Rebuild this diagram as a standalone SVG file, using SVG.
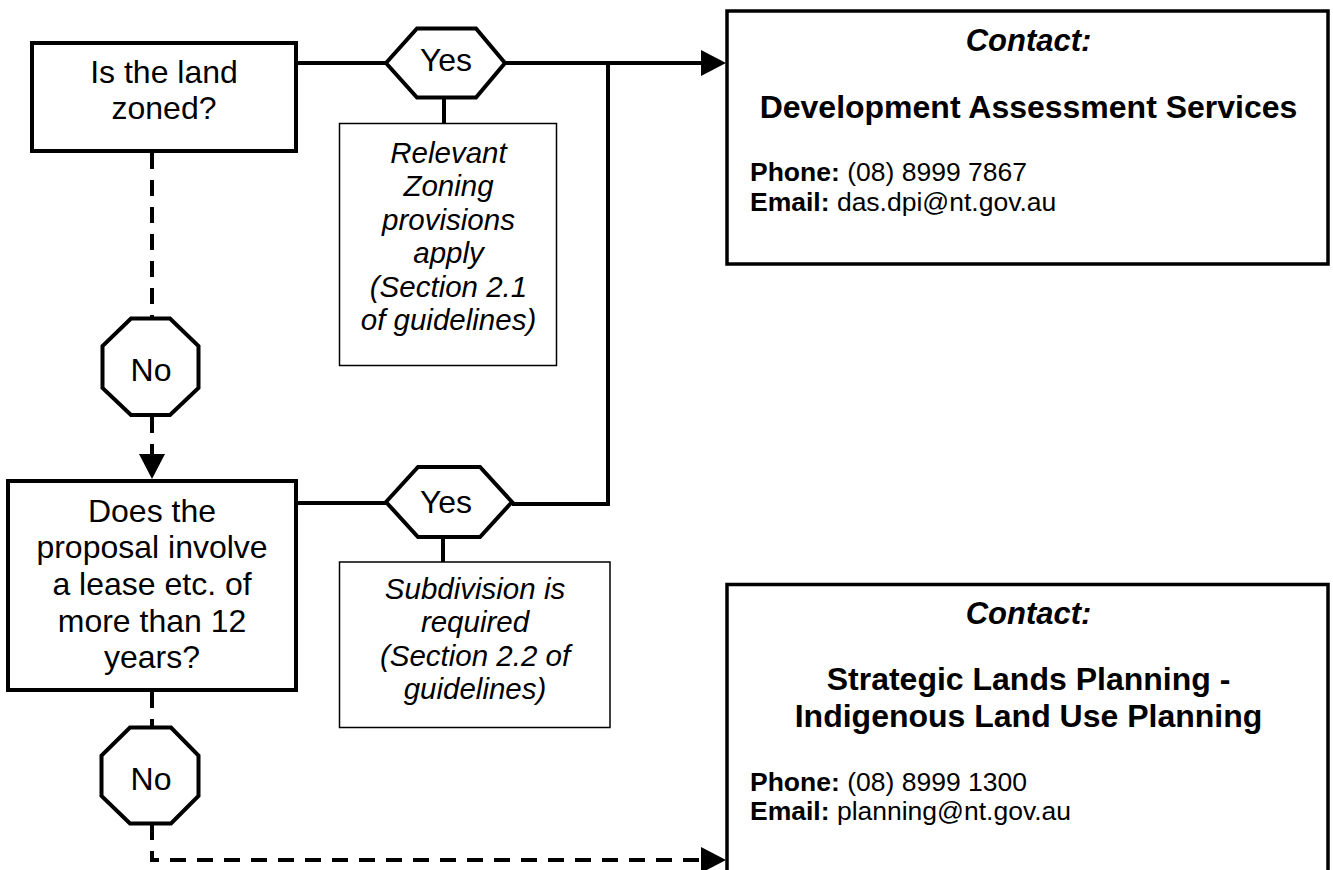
<svg xmlns="http://www.w3.org/2000/svg" width="1333" height="870" viewBox="0 0 1333 870">
<style>
text{font-family:"Liberation Sans",Arial,sans-serif;fill:#000}
.main{font-size:32px;text-anchor:middle}
.note{font-size:29.5px;font-style:italic;text-anchor:middle}
.ct{font-size:31px;font-weight:bold;font-style:italic;text-anchor:middle}
.ttl{font-size:32px;font-weight:bold;text-anchor:middle}
.info{font-size:26.5px}
.b{font-weight:bold}
.box{fill:#fff;stroke:#000;stroke-width:4}
.nbox{fill:#fff;stroke:#000;stroke-width:1.5}
.cbox{fill:#fff;stroke:#000;stroke-width:3.5}
.ln{fill:none;stroke:#000;stroke-width:4}
.dash{fill:none;stroke:#000;stroke-width:4;stroke-dasharray:16 11}
</style>
<defs>
<marker id="arr" markerUnits="userSpaceOnUse" markerWidth="25" markerHeight="26" viewBox="0 0 25 26" refX="0" refY="13" orient="auto">
<path d="M0,0 L25,13 L0,26 z" fill="#000"/>
</marker>
</defs>
<rect width="1333" height="870" fill="#fff"/>
<g id="connectors">
<path class="ln" d="M298,63 L386,63"/>
<path class="ln" d="M505,63 L701,63" marker-end="url(#arr)"/>
<path class="ln" d="M608,63 L608,504 L512,504"/>
<path class="ln" d="M298,503 L386,503"/>
<path class="ln" d="M444,99 L444,123"/>
<path class="ln" d="M443,538 L443,562"/>
<path class="dash" d="M152,153 L152,318"/>
<path class="dash" d="M152,417 L152,454" marker-end="url(#arr)"/>
<path class="dash" d="M152,692 L152,727"/>
<path class="dash" d="M152,824 L152,860 L701,860" marker-end="url(#arr)"/>
</g>
<g id="q1">
<rect class="box" x="32" y="43" width="264" height="108"/>
<text class="main" x="164" y="83">Is the land</text>
<text class="main" x="164" y="119">zoned?</text>
</g>
<g id="yes1">
<polygon class="box" points="386,63 417,28.5 476,28.5 505,63 476,97.5 417,97.5"/>
<text class="main" x="446" y="71">Yes</text>
</g>
<g id="note1">
<rect class="nbox" x="339.5" y="123.5" width="217" height="242"/>
<text class="note" x="448.5" y="162.5">Relevant</text>
<text class="note" x="448.5" y="196">Zoning</text>
<text class="note" x="448.5" y="229.5">provisions</text>
<text class="note" x="448.5" y="263">apply</text>
<text class="note" x="448.5" y="296.5">(Section 2.1</text>
<text class="note" x="448.5" y="330">of guidelines)</text>
</g>
<g id="no1">
<polygon class="box" points="131,318.5 170,318.5 198.5,346 198.5,388 170,415 131,415 102.5,388 102.5,346"/>
<text class="main" x="151" y="381">No</text>
</g>
<g id="q2">
<rect class="box" x="8" y="481" width="288" height="209"/>
<text class="main" x="152" y="521.5">Does the</text>
<text class="main" x="152" y="558.2">proposal involve</text>
<text class="main" x="152" y="594.9">a lease etc. of</text>
<text class="main" x="152" y="631.6">more than 12</text>
<text class="main" x="152" y="668.3">years?</text>
</g>
<g id="yes2">
<polygon class="box" points="386,502 418,467 480,467 512,502 480,537 418,537"/>
<text class="main" x="446" y="513">Yes</text>
</g>
<g id="note2">
<rect class="nbox" x="339.5" y="562" width="270.5" height="165.5"/>
<text class="note" x="475" y="598.5">Subdivision is</text>
<text class="note" x="475" y="632">required</text>
<text class="note" x="475" y="665.5">(Section 2.2 of</text>
<text class="note" x="475" y="699">guidelines)</text>
</g>
<g id="no2">
<polygon class="box" points="130,727.5 171,727.5 198.5,755.5 198.5,796 171,823.5 130,823.5 101.5,796 101.5,755.5"/>
<text class="main" x="151" y="790">No</text>
</g>
<g id="contact1">
<rect class="cbox" x="727" y="11" width="601" height="253"/>
<text class="ct" x="1028.5" y="51">Contact:</text>
<text class="ttl" x="1028.5" y="118">Development Assessment Services</text>
<text class="info" x="750" y="181"><tspan class="b">Phone:</tspan> (08) 8999 7867</text>
<text class="info" x="750" y="211"><tspan class="b">Email:</tspan> das.dpi@nt.gov.au</text>
</g>
<g id="contact2">
<rect class="cbox" x="727" y="584.5" width="601" height="330"/>
<text class="ct" x="1028.5" y="624">Contact:</text>
<text class="ttl" x="1028.5" y="690">Strategic Lands Planning -</text>
<text class="ttl" x="1028.5" y="727">Indigenous Land Use Planning</text>
<text class="info" x="750" y="791"><tspan class="b">Phone:</tspan> (08) 8999 1300</text>
<text class="info" x="750" y="820"><tspan class="b">Email:</tspan> planning@nt.gov.au</text>
</g>
</svg>
